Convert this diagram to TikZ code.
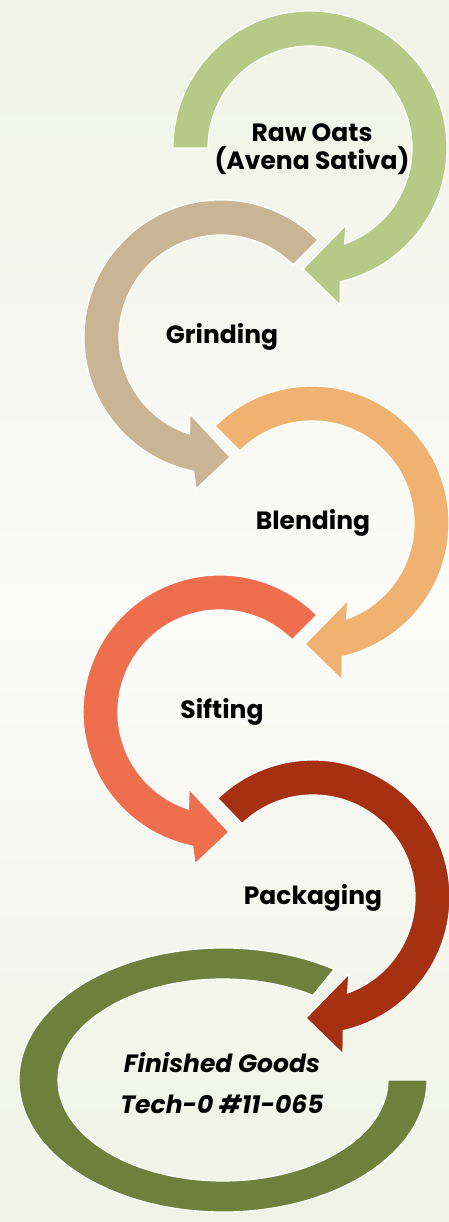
\documentclass[tikz,border=0pt]{standalone}
\usepackage{fontspec}
\setmainfont{Poppins}
\usetikzlibrary{calc}
\definecolor{cgreen}{HTML}{B7C986}
\definecolor{ctan}{HTML}{C9B493}
\definecolor{corange}{HTML}{F0B270}
\definecolor{ccoral}{HTML}{EF6E4D}
\definecolor{cred}{HTML}{A63012}
\definecolor{colive}{HTML}{70803C}
\definecolor{bgedge}{HTML}{F0F3E5}
\definecolor{bgmid}{HTML}{FBFBF8}
\def\Rin{102}
\def\Rout{137}
% #1 name, #2 centre, #3 start angle, #4 colour, #5 inner end angle, #6 outer end angle,
% #7 inner-side head corner, #8 outer-side head corner, #9 tip
\newcommand\ringarrowgen[9]{%
  \coordinate (#1) at #2;
  \filldraw[arrowshape, fill=#4]
    ($(#1)+(#3:\Rout)$) arc[start angle=#3, end angle=#6, radius=\Rout]
    -- ($(#1)+#8$) -- ($(#1)+#9$) -- ($(#1)+#7$)
    -- ($(#1)+(#5:\Rin)$) arc[start angle=#5, end angle=#3, radius=\Rin]
    -- cycle;}
\newcommand\cwarrow[4]{\ringarrowgen{#1}{#2}{#3}{#4}{-70.2}{-77.2}{(36,-77)}{(30,-157)}{(-7,-121)}}
\newcommand\ccwarrow[4]{\ringarrowgen{#1}{#2}{#3}{#4}{252}{258.5}{(-31,-77)}{(-25,-152)}{(9,-120)}}
\begin{document}
\begin{tikzpicture}[x=1pt,y=1pt,
  arrowshape/.style={draw=white, line width=1.2pt, line join=miter},
  lbl/.style={font=\bfseries\fontsize{25}{28}\selectfont, align=center, text=black, inner sep=0pt},
  ilbl/.style={font=\bfseries\itshape\fontsize{25}{41}\selectfont, align=center, text=black, inner sep=0pt}]
\useasboundingbox (0,0) rectangle (449,1222);
\shade[top color=bgedge, bottom color=bgmid] (0,611) rectangle (449,1222);
\shade[top color=bgmid, bottom color=bgedge] (0,0) rectangle (449,611.5);
% olive ellipse
\coordinate (e6) at (223,142);
\filldraw[arrowshape, fill=colive]
  ($(e6)+(57:204 and 132)$) arc[start angle=57, end angle=360, x radius=204, y radius=132]
  -- ($(e6)+(0:165 and 101)$) arc[start angle=360, end angle=57, x radius=165, y radius=101]
  -- cycle;
\cwarrow{c5}{(313,325)}{134}{cred}
\ccwarrow{c4}{(220,510)}{45}{ccoral}
\cwarrow{c3}{(312,699)}{135}{corange}
\ccwarrow{c2}{(221,885)}{45}{ctan}
\cwarrow{c1}{(310,1074)}{180}{cgreen}
\node[lbl] (t1) at (312,1073) {Raw Oats\\(Avena Sativa)};
\node[lbl] (t2) at (222,885) {Grinding};
\node[lbl] (t3) at (313,699) {Blending};
\node[lbl] (t4) at (222,510) {Sifting};
\node[lbl] (t5) at (313,324) {Packaging};
\node[ilbl] (t6) at (222,139) {Finished Goods\\Tech-0 \#11-065};
\end{tikzpicture}
\end{document}
